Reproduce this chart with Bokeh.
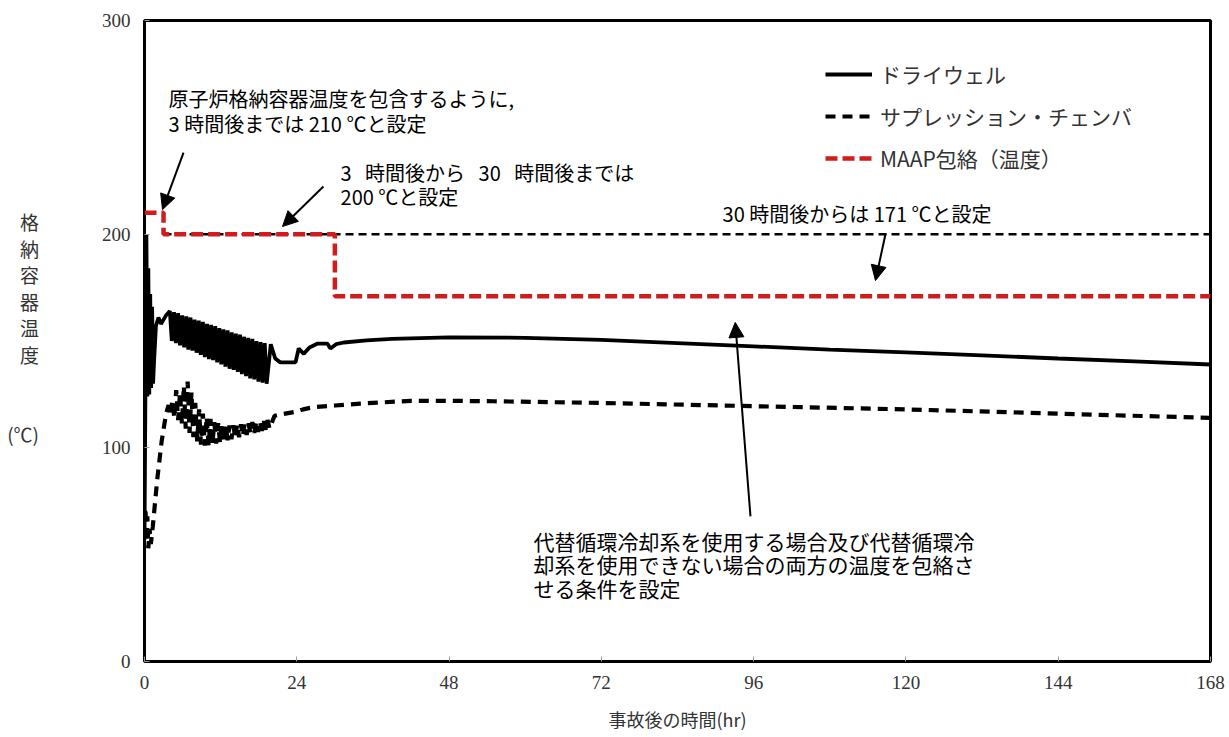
from bokeh.plotting import figure
from bokeh.models import Label, Arrow, NormalHead, Legend, LegendItem, FixedTicker, Range1d
from bokeh.embed import file_html
from bokeh.resources import INLINE

# ---- data (hours after the accident, containment temperature in deg C) ----
drywell_t = [
    0.0, 0.3, 0.45, 0.6, 0.75, 0.9, 1.05, 1.2, 1.35, 1.5, 1.8, 2.2, 2.6, 3.0, 3.4, 3.7,
    4.0, 4.3, 4.65, 4.95, 5.3, 5.6, 5.95, 6.25, 6.6, 6.9, 7.25, 7.55, 7.9, 8.2,
    8.55, 8.85, 9.2, 9.5, 9.85, 10.15, 10.5, 10.8, 11.15, 11.45, 11.8, 12.1,
    12.45, 12.75, 13.1, 13.4, 13.75, 14.05, 14.4, 14.7, 15.05, 15.35, 15.7, 16.0,
    16.35, 16.65, 17.0, 17.3, 17.65, 17.95, 18.3, 18.6, 18.95, 19.25,
    19.9, 20.6, 21.4, 23.8, 24.3, 25.1, 26.0, 27.3, 28.8, 29.3, 30.2, 31.4,
    35.0, 39.0, 48.0, 60.0, 72.0, 84.0, 96.0, 108.0, 120.0, 132.0, 144.0, 156.0, 168.0,
]
drywell_v = [
    57, 200, 124, 184, 125, 172, 128, 166, 130, 140, 157, 161, 158, 160, 162, 163,
    164, 150, 163.5, 149, 163, 148, 162, 147, 161.5, 146, 161, 145.5, 160, 144.5,
    159.5, 143.5, 159, 142.5, 158, 141.5, 157.5, 141, 157, 140, 156, 139,
    155.5, 138, 155, 137, 154, 136.5, 153.5, 135.5, 153, 134.5, 152, 133.5,
    151.5, 132.5, 151, 132, 150, 131, 149.5, 130.5, 149, 130,
    148.5, 141.8, 140, 140, 146.5, 144, 147, 148.8, 148.8, 146.5, 148.5, 149.3,
    150.3, 151, 151.7, 151.5, 150.5, 149, 147.5, 146, 144.7, 143.3, 141.8, 140.5, 139,
]

suppression_t = [
    0.0, 0.15, 0.3, 0.45, 0.6, 0.8, 1.0, 1.3, 2.0, 2.7, 3.4,
    3.8, 4.1, 4.4, 4.7, 5.0, 5.3, 5.6, 5.9, 6.2, 6.5, 6.8, 7.1, 7.4, 7.7,
    8.0, 8.3, 8.6, 8.9, 9.2, 9.5, 9.8, 10.1, 10.4, 10.7, 11.0, 11.3, 11.6, 11.9,
    12.2, 12.5, 12.8, 13.1, 13.4, 13.7, 14.0, 14.3, 14.6, 14.9, 15.2, 15.5,
    15.8, 16.1, 16.4, 16.7, 17.0, 17.3, 17.6, 17.9, 18.2, 18.5, 18.8, 19.1, 19.4, 19.7,
    20.5, 21.4, 24.0, 25.0, 26.6, 30.0, 34.0, 42.0, 48.0, 55.0, 72.0, 96.0, 120.0, 144.0, 168.0,
]
suppression_v = [
    66, 72, 56, 68, 53, 62, 55, 63, 85, 103, 116,
    120, 116, 122, 114, 127, 113, 126, 111, 129, 109, 131, 107, 126, 105,
    121, 103, 118, 101.5, 116, 101, 114.5, 101, 113.5, 101.5, 112, 102, 111.5, 102.5,
    111, 103, 110.5, 103.5, 110.5, 104, 110.5, 104.5, 111, 105, 111, 105.5,
    111.5, 106, 111.5, 106.5, 112, 107, 112, 107.5, 112.5, 108, 112.5, 108.5, 113, 109,
    115, 115.6, 117, 118, 119, 119.8, 120.7, 122, 122, 121.8, 121, 119.5, 118, 116, 114,
]

# MAAP envelope: 210 C until 3 h, 200 C until 30 h, 171 C afterwards
envelope_t = [0, 3, 3, 30, 30, 168]
envelope_v = [210, 210, 200, 200, 171, 171]

# 200 C reference level
limit_t = [3, 168]
limit_v = [200, 200]

x_ticks = [0, 24, 48, 72, 96, 120, 144, 168]
y_ticks = [0, 100, 200, 300]

JP = "Noto Sans CJK JP"
SERIF = "Liberation Serif"
NB = "\u00a0"

p = figure(
    width=1229, height=737, output_backend="svg", toolbar_location=None,
    x_range=Range1d(0, 168), y_range=Range1d(0, 300),
    min_border_left=144, min_border_right=19, min_border_top=20, min_border_bottom=76,
)
p.background_fill_color = "white"
p.border_fill_color = "white"
p.outline_line_color = "black"
p.outline_line_width = 3
p.xgrid.visible = False
p.ygrid.visible = False

for ax in (p.xaxis[0], p.yaxis[0]):
    ax.axis_line_color = None
    ax.major_tick_in = 5
    ax.major_tick_out = 0
    ax.major_tick_line_color = "#999999"
    ax.minor_tick_line_color = None
    ax.major_label_text_font = SERIF
    ax.major_label_text_font_size = "19px"
    ax.major_label_text_color = "#333333"
    ax.major_label_standoff = 14

p.xaxis.ticker = FixedTicker(ticks=x_ticks)
p.yaxis.ticker = FixedTicker(ticks=y_ticks)
p.xaxis.axis_label = "事故後の時間(hr)"
p.xaxis.axis_label_text_font = JP
p.xaxis.axis_label_text_font_style = "normal"
p.xaxis.axis_label_text_font_size = "18px"
p.xaxis.axis_label_text_color = "#333333"
p.xaxis.axis_label_standoff = 14

# stacked, upright y-axis title (trailing blank line lifts the block slightly)
p.yaxis.axis_label = "格\n納\n容\n器\n温\n度\n\n\n(℃)\n" + NB
p.yaxis.axis_label_orientation = "horizontal"
p.yaxis.axis_label_text_font = JP
p.yaxis.axis_label_text_font_style = "normal"
p.yaxis.axis_label_text_font_size = "19px"
p.yaxis.axis_label_text_line_height = 0.98
p.yaxis.axis_label_text_align = "center"
p.yaxis.axis_label_text_color = "#333333"
p.yaxis.axis_label_standoff = 60

# curves
r_limit = p.line(limit_t, limit_v, line_color="black", line_width=2.5, line_dash="8 5")
r_env = p.line(envelope_t, envelope_v, line_color="#d01c1c", line_width=4.5, line_dash="12 5")
r_sc = p.line(suppression_t, suppression_v, line_color="black", line_width=4.2, line_dash="10 7")
r_dw = p.line(drywell_t, drywell_v, line_color="black", line_width=3.8)

legend = Legend(
    items=[
        LegendItem(label="ドライウェル", renderers=[r_dw]),
        LegendItem(label="サプレッション・チェンバ", renderers=[r_sc]),
        LegendItem(label="MAAP包絡（温度）", renderers=[r_env]),
    ],
    location=(681, 488), padding=0, margin=0, border_line_color=None,
    background_fill_alpha=0, glyph_width=47, glyph_height=20, label_height=20,
    spacing=12, label_standoff=8, label_text_font=JP, label_text_font_size="21px",
    label_text_color="#333333",
)
p.add_layout(legend)


def note(x, y, text, size="20px"):
    p.add_layout(Label(x=x, y=y, text=text, text_font=JP, text_font_size=size,
                       text_align="left", text_baseline="middle", text_color="black"))


note(3.8, 263.5, "原子炉格納容器温度を包含するように,")
note(3.8, 251.8, "3 時間後までは 210 ℃と設定")
note(30.9, 228.9, "3" + NB * 3 + "時間後から" + NB * 3 + "30" + NB * 3 + "時間後までは")
note(30.9, 217.6, "200 ℃と設定")
note(91.1, 209.7, "30 時間後からは 171 ℃と設定")
note(61.3, 56.6, "代替循環冷却系を使用する場合及び代替循環冷", size="21px")
note(61.3, 45.4, "却系を使用できない場合の両方の温度を包絡さ", size="21px")
note(61.3, 34.2, "せる条件を設定", size="21px")

for xs, ys, xe, ye in [(6.15, 238.2, 2.84, 211.5), (28.2, 222.3, 21.75, 203.6),
                       (116.8, 200.3, 115.2, 178.3), (95.5, 67.9, 93.1, 158.7)]:
    p.add_layout(Arrow(end=NormalHead(size=15, fill_color="black", line_color="black"),
                       x_start=xs, y_start=ys, x_end=xe, y_end=ye,
                       line_color="black", line_width=2))

open("out.html", "w").write(file_html(p, INLINE))
